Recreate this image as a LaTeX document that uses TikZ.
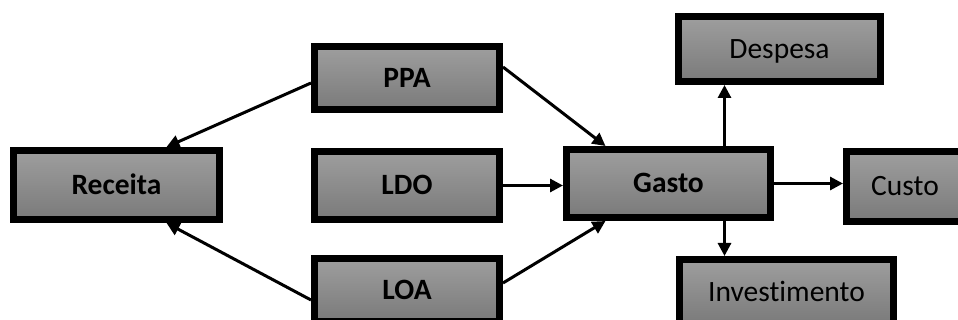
\documentclass[tikz,border=0pt]{standalone}
\usepackage{fontspec}
\setmainfont{Carlito}[Ligatures=CommonOff]
\usetikzlibrary{arrows.meta,calc}
\definecolor{boxtop}{RGB}{158,158,158}
\definecolor{boxbot}{RGB}{122,122,122}
\begin{document}
\begin{tikzpicture}[x=1pt,y=-1pt,
  caixa/.style={draw=black,line width=7pt,top color=boxtop,bottom color=boxbot,
    font=\fontsize{29.5}{31}\selectfont,text height=19pt,text depth=0pt,
    inner sep=0pt},
  forte/.style={caixa,font=\fontsize{29.5}{31}\selectfont\bfseries},
  seta/.style={line width=3pt,-{Triangle[length=13pt,width=13pt]}}]
\clip (0,0) rectangle (958,320);
% entradas
\node[forte,minimum width=206pt,minimum height=69pt] (Receita) at (116.5,185) {Receita};
\node[forte,minimum width=185pt,minimum height=63pt] (PPA) at (407,78) {PPA};
\node[forte,minimum width=185pt,minimum height=68pt] (LDO) at (407,185.5) {LDO};
\node[forte,minimum width=185pt,minimum height=63pt] (LOA) at (407,290) {LOA};
\node[forte,minimum width=204pt,minimum height=68pt] (Gasto) at (668.5,183.5) {Gasto};
% saidas
\node[caixa,minimum width=202pt,minimum height=65pt] (Despesa) at (779.5,49) {Despesa};
\node[caixa,minimum width=117pt,minimum height=70pt] (Custo) at (905,186.5) {Custo};
\node[caixa,minimum width=214pt,minimum height=65pt] (Investimento) at (786.5,292) {Investimento};
% setas
\draw[seta] ([yshift=-5pt]PPA.west) -- ([xshift=50pt]Receita.north);
\draw[seta] ([yshift=-10pt]LOA.west) -- ([xshift=50pt]Receita.south);
\draw[seta] ([yshift=11pt]PPA.east) -- ([xshift=-63pt]Gasto.north);
\draw[seta] (LDO.east) -- (LDO.east -| Gasto.west);
\draw[seta] ([yshift=7pt]LOA.east) -- ([xshift=-63pt]Gasto.south);
\draw[seta] ([xshift=56pt]Gasto.north) -- ([xshift=56pt]Gasto.north |- Despesa.south);
\draw[seta] (Gasto.east) -- (Gasto.east -| Custo.west);
\draw[seta] ([xshift=56pt]Gasto.south) -- ([xshift=56pt]Gasto.south |- Investimento.north);
\end{tikzpicture}
\end{document}
